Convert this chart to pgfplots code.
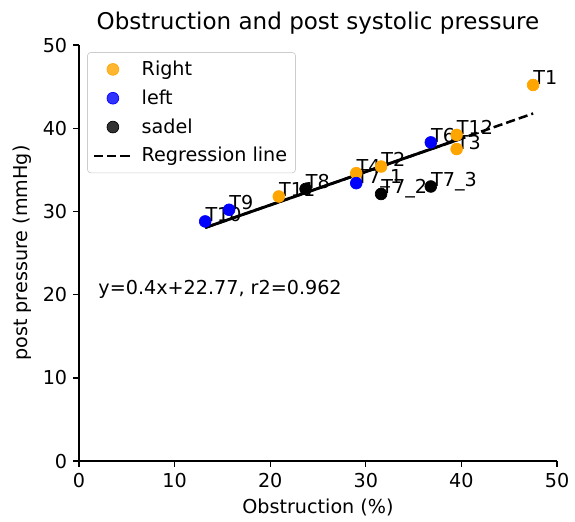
\documentclass[border=0pt]{standalone}
\usepackage{fontspec}
\setmainfont{DejaVu Sans}
\usepackage{pgfplots}
\pgfplotsset{compat=1.18}
\usetikzlibrary{calc}
\definecolor{mplorange}{RGB}{255,165,0}
\definecolor{mplblue}{RGB}{0,0,255}
\pgfplotsset{
  dotlegend/.style={legend image code/.code={\draw[##1] plot coordinates {(0.4cm,0cm)};}},
  linelegend/.style={legend image code/.code={\draw[##1] (0cm,0cm) -- (0.8cm,0cm);}},
}

\begin{document}
\begin{tikzpicture}[font=\fontsize{11.4}{13.7}\selectfont]
  \begin{axis}[
    scale only axis, width=284.4pt, height=247.5pt,
    xmin=0, xmax=50, ymin=0, ymax=50,
    xtick={0,10,...,50}, ytick={0,10,...,50},
    axis x line*=bottom, axis y line*=left,
    axis line style={line width=0.8pt},
    tick align=outside, major tick length=3.5pt,
    tick style={line width=0.8pt, black},
    /pgf/number format/assume math mode=true,
    xlabel={Obstruction (\%)}, ylabel={post pressure (mmHg)},
    title={\fontsize{13.7}{16}\selectfont Obstruction and post systolic pressure},
    title style={yshift=-3.4pt},
    legend cell align=left,
    legend style={at={(0.017,0.983)}, anchor=north west, draw=black!20,
      rounded corners=2pt, fill=white, fill opacity=0.8, text opacity=1,
      row sep=3pt, column sep=3pt, inner sep=3pt},
  ]
    \addplot[only marks, mark=*, mark size=3.5pt, draw=mplorange, fill=mplorange, dotlegend]
      coordinates {(47.5,45.2) (20.9,31.8) (29.0,34.6) (31.6,35.4) (39.5,39.2) (39.5,37.5)};
    \addlegendentry{Right}
    \addplot[only marks, mark=*, mark size=3.5pt, draw=mplblue, fill=mplblue, dotlegend]
      coordinates {(13.2,28.8) (15.7,30.2) (29.0,33.4) (36.8,38.3)};
    \addlegendentry{left}
    \addplot[only marks, mark=*, mark size=3.5pt, draw=black, fill=black, dotlegend]
      coordinates {(23.7,32.7) (31.6,32.1) (36.8,33.0)};
    \addlegendentry{sadel}
    \addplot[black, line width=1.5pt, dash pattern=on 5.5pt off 2.4pt, linelegend]
      coordinates {(13.2,28.05) (47.5,41.77)};
    \addlegendentry{Regression line}
    \addplot[black, line width=1.7pt, forget plot]
      coordinates {(13.2,28.05) (40.4,38.93)};

    \node[anchor=base west, inner sep=0pt] at (axis cs:47.5,45.2) {T1};
    \node[anchor=base west, inner sep=0pt] at (axis cs:20.9,31.8) {T11};
    \node[anchor=base west, inner sep=0pt] at (axis cs:29.0,34.6) {T4};
    \node[anchor=base west, inner sep=0pt] at (axis cs:31.6,35.4) {T2};
    \node[anchor=base west, inner sep=0pt] at (axis cs:39.5,39.2) {T12};
    \node[anchor=base west, inner sep=0pt] at (axis cs:39.5,37.5) {T3};
    \node[anchor=base west, inner sep=0pt] at (axis cs:13.2,28.8) {T10};
    \node[anchor=base west, inner sep=0pt] at (axis cs:15.7,30.2) {T9};
    \node[anchor=base west, inner sep=0pt] at (axis cs:29.0,33.4) {T7\_1};
    \node[anchor=base west, inner sep=0pt] at (axis cs:36.8,38.3) {T6};
    \node[anchor=base west, inner sep=0pt] at (axis cs:23.7,32.7) {T8};
    \node[anchor=base west, inner sep=0pt] at (axis cs:31.6,32.1) {T7\_2};
    \node[anchor=base west, inner sep=0pt] at (axis cs:36.8,33.0) {T7\_3};
    \node[anchor=base west, inner sep=0pt] at (axis cs:2,20) {y=0.4x+22.77, r2=0.962};
  \end{axis}
  \path ($(current axis.south west)+(-47pt,-33.3pt)$) rectangle ($(current axis.north east)+(10.7pt,26.8pt)$);
\end{tikzpicture}
\end{document}
